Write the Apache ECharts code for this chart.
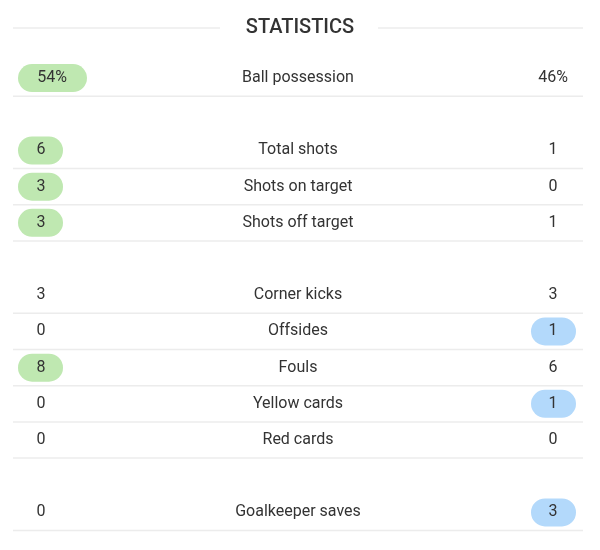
<!DOCTYPE html>
<html>
<head>
<meta charset="utf-8">
<script src="https://cdn.jsdelivr.net/npm/echarts@6/dist/echarts.min.js"></script>
<style>html,body{margin:0;padding:0;background:#fff}#main{width:600px;height:550px}</style>
</head>
<body>
<div id="main"></div>
<script>
const myChart = echarts.init(document.getElementById('main'));

// row slots on the vertical axis (gaps separate the groups)
const slots = [0, 2, 3, 4, 6, 7, 8, 9, 10, 12];
const statNames = ['Ball possession', 'Total shots', 'Shots on target', 'Shots off target',
  'Corner kicks', 'Offsides', 'Fouls', 'Yellow cards', 'Red cards', 'Goalkeeper saves'];
const homeValues = [54, 6, 3, 3, 3, 0, 8, 0, 0, 0];
const awayValues = [46, 1, 0, 1, 3, 1, 6, 1, 0, 3];
const units = ['%', '', '', '', '', '', '', '', '', ''];
const slotLabels = ['', '', '', '', '', '', '', '', '', '', '', '', ''];

const seriesData = slots.map((s, i) => [s, homeValues[i], awayValues[i], i]);

const font = '16px Roboto, sans-serif';

function renderRow(params, api) {
  const slot = api.value(0);
  const i = api.value(3);
  const c = api.coord([0, slot]);
  const band = api.size([0, 1])[1];
  const y = c[1];
  const home = homeValues[i], away = awayValues[i];
  const hText = home + units[i], aText = away + units[i];
  const children = [];
  const pillH = 28;
  if (home > away) {
    const w = hText.length > 1 ? 69 : 45;
    children.push({ type: 'rect', shape: { x: api.coord([18, slot])[0], y: y - pillH / 2, width: w, height: pillH, r: 14 }, style: { fill: '#bfe8b1' } });
  }
  if (away > home) {
    const w = aText.length > 1 ? 69 : 45;
    children.push({ type: 'rect', shape: { x: api.coord([576, slot])[0] - w, y: y - pillH / 2, width: w, height: pillH, r: 14 }, style: { fill: '#b3d9fb' } });
  }
  const hx = home > away && hText.length > 1 ? 52 : 41;
  const ax = away > home && aText.length > 1 ? 542 : 553;
  children.push({ type: 'text', style: { text: hText, x: api.coord([hx, slot])[0], y: y, align: 'center', verticalAlign: 'middle', font: font, fill: '#333' } });
  children.push({ type: 'text', style: { text: statNames[i], x: api.coord([298, slot])[0], y: y, align: 'center', verticalAlign: 'middle', font: font, fill: '#333' } });
  children.push({ type: 'text', style: { text: aText, x: api.coord([ax, slot])[0], y: y, align: 'center', verticalAlign: 'middle', font: font, fill: '#333' } });
  children.push({ type: 'line', shape: { x1: api.coord([13, slot])[0], y1: y + band / 2, x2: api.coord([583, slot])[0], y2: y + band / 2 }, style: { stroke: '#ececec', lineWidth: 1.5 } });
  return { type: 'group', children: children };
}

myChart.setOption({
  animation: false,
  title: {
    text: 'STATISTICS',
    left: 'center',
    top: 13,
    textStyle: { fontFamily: 'Roboto', fontSize: 20, fontWeight: 500, color: '#333' },
  },
  graphic: [
    { type: 'line', shape: { x1: 13, y1: 28, x2: 220, y2: 28 }, style: { stroke: '#ececec', lineWidth: 1.5 } },
    { type: 'line', shape: { x1: 378, y1: 28, x2: 583, y2: 28 }, style: { stroke: '#ececec', lineWidth: 1.5 } },
  ],
  grid: { left: 0, right: 0, top: 60, bottom: 19.5 },
  xAxis: { type: 'value', min: 0, max: 600, show: false },
  yAxis: { type: 'category', data: slotLabels, inverse: true, show: false },
  series: [{
    type: 'custom',
    renderItem: renderRow,
    encode: { y: 0 },
    data: seriesData,
  }],
});
</script>
</body>
</html>
